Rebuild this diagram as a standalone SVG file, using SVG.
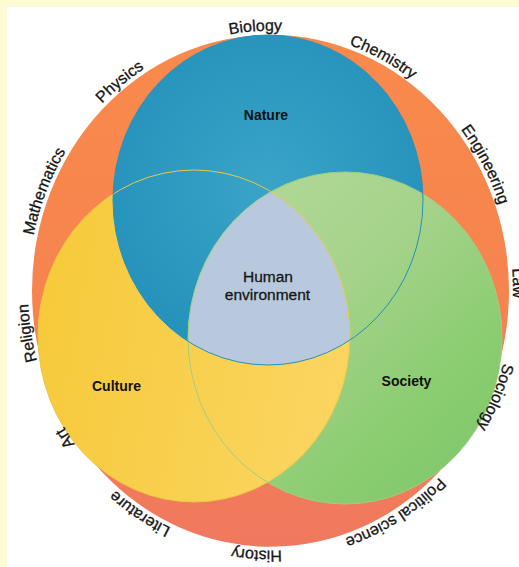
<svg xmlns="http://www.w3.org/2000/svg" width="519" height="567" viewBox="0 0 519 567">
<defs>
<style>
.lbl{font-family:"Liberation Sans",Arial,sans-serif;font-size:16px;fill:#161616;stroke:#161616;stroke-width:0.3}
.big{font-family:"Liberation Sans",Arial,sans-serif;font-size:14px;font-weight:bold;fill:#111;text-anchor:middle}
.hum{font-family:"Liberation Sans",Arial,sans-serif;font-size:15.5px;fill:#151515;stroke:#151515;stroke-width:0.3;text-anchor:middle}
.ol{fill:none;stroke-width:1}
</style>
<linearGradient id="gOrange" gradientUnits="userSpaceOnUse" x1="0" y1="34" x2="0" y2="547">
<stop offset="0" stop-color="#f98a4b"/><stop offset="0.55" stop-color="#f6834f"/><stop offset="1" stop-color="#f0785f"/>
</linearGradient>
<radialGradient id="gBlue" gradientUnits="userSpaceOnUse" cx="268" cy="185" r="175">
<stop offset="0" stop-color="#3aa4c8"/><stop offset="1" stop-color="#2592bb"/>
</radialGradient>
<linearGradient id="gYellow" gradientUnits="userSpaceOnUse" x1="38" y1="300" x2="350" y2="360">
<stop offset="0" stop-color="#f6ca3a"/><stop offset="1" stop-color="#fbd561"/>
</linearGradient>
<linearGradient id="gGreen" gradientUnits="userSpaceOnUse" x1="188" y1="172" x2="502" y2="504">
<stop offset="0" stop-color="#b4da9a"/><stop offset="0.4" stop-color="#a6d38c"/><stop offset="0.7" stop-color="#8ccd72"/><stop offset="1" stop-color="#7bc668"/>
</linearGradient>
<clipPath id="cNature"><ellipse cx="268" cy="200" rx="155" ry="165"/></clipPath>
<clipPath id="cCulture"><ellipse cx="194" cy="336" rx="156" ry="166"/></clipPath>
<path id="pBiology" d="M89.16,118.14 A242.5,260 0 0 1 431.5,96.32"/>
<path id="pChemistry" d="M193.55,44.19 A242.5,260 0 0 1 500.46,208.25"/>
<path id="pPhysics" d="M30.55,253.21 A242.5,260 0 0 1 305.52,33.48"/>
<path id="pMath" d="M45.65,388.15 A242.5,260 0 0 1 179.66,49.68"/>
<path id="pEng" d="M334.91,40.08 A242.5,260 0 0 1 504.29,359.81"/>
<path id="pLaw" d="M436.81,101.52 A242.5,260 0 0 1 446.99,469.06"/>
<path id="pReligion" d="M130.02,502.68 A242.5,260 0 0 1 72.84,140.13"/>
<path id="pSociology" d="M497.8,200.11 A242.5,260 0 0 1 355.04,534.45"/>
<path id="pPolitical" d="M504.95,357.15 A242.5,260 0 0 1 208.57,542.12"/>
<path id="pHistory" d="M432.44,484.27 A242.5,260 0 0 1 90.01,464.38"/>
<path id="pLiterature" d="M328.34,543.24 A242.5,260 0 0 1 35.01,352.76"/>
<path id="pArt" d="M227.55,546.64 A242.5,260 0 0 1 31.83,244.7"/>
</defs>
<rect x="0" y="0" width="519" height="567" fill="#fefbd4"/>
<rect x="7" y="7" width="512" height="560" fill="#ffffff"/>
<g id="disciplines-ring">
<ellipse cx="270.5" cy="290.75" rx="238.5" ry="256" fill="url(#gOrange)"/>
</g>
<g id="society">
<ellipse cx="345" cy="338" rx="157" ry="166" fill="url(#gGreen)"/>
</g>
<g id="culture">
<ellipse cx="194" cy="336" rx="156" ry="166" fill="url(#gYellow)"/>
</g>
<g id="nature">
<ellipse cx="268" cy="200" rx="155" ry="165" fill="url(#gBlue)"/>
<g clip-path="url(#cNature)"><ellipse cx="345" cy="338" rx="157" ry="166" fill="url(#gGreen)"/></g>
</g>
<g id="human-environment">
<g clip-path="url(#cNature)"><g clip-path="url(#cCulture)"><ellipse cx="345" cy="338" rx="157" ry="166" fill="#b9c9dd"/></g></g>
</g>
<g id="outlines">
<ellipse class="ol" cx="194" cy="336" rx="156" ry="166" stroke="#e9c948"/>
<ellipse class="ol" cx="345" cy="338" rx="157" ry="166" stroke="#9fcf86"/>
<ellipse class="ol" cx="268" cy="200" rx="155" ry="165" stroke="#2a93b8"/>
</g>
<g id="labels">
<text class="big" x="266" y="120">Nature</text>
<text class="big" x="116.5" y="391">Culture</text>
<text class="big" x="406.5" y="386">Society</text>
<text class="hum" x="268" y="282">Human</text>
<text class="hum" x="267.5" y="300">environment</text>
</g>
<g id="ring-labels" class="lbl">
<text><textPath href="#pBiology" startOffset="50%" text-anchor="middle">Biology</textPath></text>
<text><textPath href="#pChemistry" startOffset="50%" text-anchor="middle">Chemistry</textPath></text>
<text><textPath href="#pPhysics" startOffset="50%" text-anchor="middle">Physics</textPath></text>
<text><textPath href="#pMath" startOffset="50%" text-anchor="middle">Mathematics</textPath></text>
<text><textPath href="#pEng" startOffset="50%" text-anchor="middle">Engineering</textPath></text>
<text><textPath href="#pLaw" startOffset="50%" text-anchor="middle">Law</textPath></text>
<text><textPath href="#pReligion" startOffset="50%" text-anchor="middle">Religion</textPath></text>
<text><textPath href="#pSociology" startOffset="50%" text-anchor="middle">Sociology</textPath></text>
<text><textPath href="#pPolitical" startOffset="50%" text-anchor="middle">Political science</textPath></text>
<text><textPath href="#pHistory" startOffset="50%" text-anchor="middle">History</textPath></text>
<text><textPath href="#pLiterature" startOffset="50%" text-anchor="middle">Literature</textPath></text>
<text><textPath href="#pArt" startOffset="50%" text-anchor="middle">Art</textPath></text>
</g>
</svg>
